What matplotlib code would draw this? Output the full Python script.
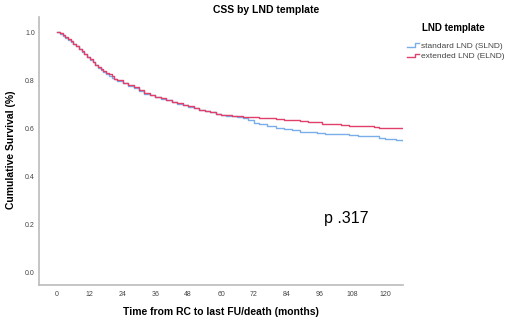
import numpy as np
import matplotlib
matplotlib.use('Agg')
import matplotlib.pyplot as plt
from matplotlib.lines import Line2D
from matplotlib.legend_handler import HandlerLine2D

plt.rcParams['font.family'] = ['Liberation Sans', 'DejaVu Sans']

# survival estimates (months, cumulative survival)
t_slnd = [0, 1, 2, 3, 4, 5, 6, 7, 8, 9, 10, 11, 12, 13, 14, 15, 16, 17, 18, 19, 20, 21, 22,
          24, 26, 28, 30, 32, 34, 36, 38, 40, 42, 44, 46, 48, 50, 52, 54, 56, 58, 60, 62,
          64, 66, 68, 70, 72, 74, 77, 80, 83, 86, 89, 92, 95, 98, 101, 104, 107, 110, 113,
          116, 118, 120, 122, 124, 126.5]
s_slnd = [1.000, 0.993, 0.985, 0.977, 0.968, 0.960, 0.950, 0.940, 0.929, 0.918, 0.907,
          0.896, 0.885, 0.873, 0.862, 0.851, 0.842, 0.834, 0.826, 0.818, 0.810, 0.803,
          0.797, 0.786, 0.776, 0.766, 0.754, 0.743, 0.736, 0.729, 0.722, 0.715, 0.709,
          0.702, 0.695, 0.689, 0.682, 0.676, 0.670, 0.665, 0.659, 0.654, 0.651, 0.648,
          0.645, 0.640, 0.633, 0.622, 0.616, 0.609, 0.602, 0.596, 0.590, 0.585, 0.582,
          0.579, 0.577, 0.575, 0.573, 0.571, 0.568, 0.566, 0.565, 0.559, 0.556, 0.553,
          0.550, 0.546]

t_elnd = [0, 1, 2, 3, 4, 5, 6, 7, 8, 9, 10, 11, 12, 13, 14, 15, 16, 17, 18, 19, 20, 21, 22,
          24, 26, 28, 30, 32, 34, 36, 38, 40, 42, 44, 46, 48, 50, 52, 54, 56, 58, 60, 62,
          64, 66, 68, 70, 72, 74, 77, 80, 83, 86, 89, 92, 95, 97, 101, 104, 107, 110, 113,
          116, 118, 122, 126.5]
s_elnd = [1.000, 0.994, 0.986, 0.978, 0.969, 0.961, 0.951, 0.941, 0.930, 0.919, 0.908,
          0.897, 0.887, 0.875, 0.864, 0.853, 0.844, 0.836, 0.829, 0.823, 0.815, 0.806,
          0.800, 0.789, 0.779, 0.769, 0.757, 0.745, 0.738, 0.731, 0.724, 0.717, 0.710,
          0.703, 0.696, 0.690, 0.683, 0.677, 0.671, 0.666, 0.660, 0.656, 0.653, 0.650,
          0.649, 0.647, 0.646, 0.645, 0.643, 0.640, 0.637, 0.635, 0.632, 0.629, 0.626,
          0.625, 0.618, 0.616, 0.613, 0.610, 0.608, 0.607, 0.606, 0.602, 0.601, 0.601]

labels = ['standard LND (SLND)', 'extended LND (ELND)']
colors = ['#7aaeea', '#e0406a']
xticks = [0, 12, 24, 36, 48, 60, 72, 84, 96, 108, 120]
yticks = [0.0, 0.2, 0.4, 0.6, 0.8, 1.0]


class StepHandler(HandlerLine2D):
    # draw the legend glyph as a small step, like the SPSS output
    def create_artists(self, legend, orig_handle, xdescent, ydescent,
                       width, height, fontsize, trans):
        x0, x1 = -xdescent, -xdescent + width
        xm = x0 + width * 0.65
        ylo = -ydescent + height * 0.2
        yhi = -ydescent + height * 0.75
        ln = Line2D([x0, xm, xm, x1], [ylo, ylo, yhi, yhi],
                    color=orig_handle.get_color(), lw=orig_handle.get_linewidth())
        ln.set_transform(trans)
        return [ln]


fig = plt.figure(figsize=(5.14, 3.21), dpi=100, facecolor='w')
ax = fig.add_axes([39/514, 36/321, (403-39)/514, (285-17)/321])

for t, s, c, lab in zip([t_slnd, t_elnd], [s_slnd, s_elnd], colors, labels):
    ax.step(t, s, where='post', color=c, lw=1.0, label=lab)

ax.set_xlim(-6.6, 126.6)
ax.set_ylim(-0.054, 1.0625)
ax.set_xticks(xticks)
ax.set_yticks(yticks)
ax.set_yticklabels(['%.1f' % v for v in yticks])
ax.tick_params(length=0, labelsize=5, labelcolor='#444444')
ax.tick_params(axis='x', pad=4)
ax.tick_params(axis='y', pad=3)
for sp in ['top', 'right']:
    ax.spines[sp].set_visible(False)
for sp in ['left', 'bottom']:
    ax.spines[sp].set_color('#bbbbbb')
    ax.spines[sp].set_linewidth(1.2)

fig.text(221/514, 1-312/321, 'Time from RC to last FU/death (months)', fontsize=7.5,
         fontweight='bold', ha='center', va='center')
fig.text(11/514, 1-150/321, 'Cumulative Survival (%)', fontsize=7.5,
         fontweight='bold', ha='center', va='center', rotation=90)
fig.text(266/514, 1-10/321, 'CSS by LND template', fontsize=7.5, fontweight='bold',
         ha='center', va='center')
ax.text(105.7, 0.221, 'p .317', fontsize=11.5, ha='center', va='center')

fig.text(422/514, 1-28/321, 'LND template', fontsize=7, fontweight='bold',
         ha='left', va='center')
h, l = ax.get_legend_handles_labels()
leg = fig.legend(h, l, loc='upper left', bbox_to_anchor=(401/514, 1-36/321),
                 frameon=False, fontsize=6,
                 handlelength=1.5, handletextpad=0.25,
                 labelspacing=0.35, borderpad=0.2,
                 handler_map={Line2D: StepHandler()})
for txt in leg.get_texts():
    txt.set_color('#444444')

fig.savefig('out.png', dpi=100)
